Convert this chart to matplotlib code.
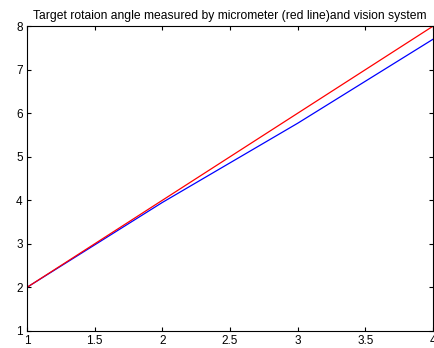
import matplotlib
matplotlib.use("Agg")
import matplotlib.pyplot as plt

x = [1, 2, 3, 4]
micrometer = [2, 4, 6, 8]
vision = [2, 3.95, 5.77, 7.7]
xticks = [1, 1.5, 2, 2.5, 3, 3.5, 4]
yticks = [1, 2, 3, 4, 5, 6, 7, 8]

plt.rcParams['font.family'] = ['Liberation Sans', 'DejaVu Sans']
fig = plt.figure(figsize=(4.34, 3.48), dpi=100)
ax = fig.add_axes([0.062, 0.049, 0.936, 0.876])
ax.plot(x, vision, color='blue', lw=0.9)
ax.plot(x, micrometer, color='red', lw=0.9)
ax.set_xlim(1, 4)
ax.set_ylim(1, 8)
ax.set_xticks(xticks)
ax.set_xticklabels(['1', '1.5', '2', '2.5', '3', '3.5', '4'])
ax.set_yticks(yticks)
ax.tick_params(direction='in', top=True, right=True, labelsize=8.5, length=3, width=0.8, pad=3)
for s in ax.spines.values():
    s.set_linewidth(0.8)
ax.set_title('Target rotaion angle measured by micrometer (red line)and vision system', fontsize=8.7, pad=5)
fig.savefig('out.png', dpi=100)
